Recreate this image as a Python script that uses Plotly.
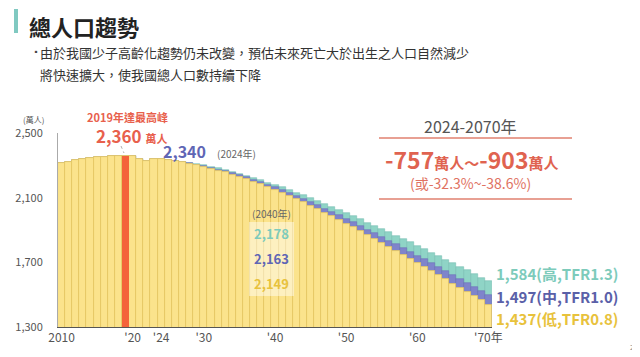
import plotly.graph_objects as go

# ---- data ----
hist_years = list(range(2010, 2024))
hist_values = [2316, 2322, 2332, 2337, 2343, 2349, 2354, 2357, 2359, 2360, 2356, 2338, 2326, 2342]

proj_years = list(range(2024, 2071))
proj_high = [2340, 2335, 2328, 2322, 2315, 2308, 2300, 2291, 2281, 2271, 2260, 2248, 2236, 2222, 2208, 2193,
             2178, 2163, 2147, 2131, 2114, 2097, 2079, 2061, 2042, 2024, 2005, 1985, 1966, 1946, 1926, 1905,
             1885, 1864, 1844, 1823, 1803, 1781, 1760, 1737, 1716, 1694, 1672, 1650, 1627, 1606, 1584]
proj_mid = [2340, 2334, 2327, 2320, 2312, 2304, 2295, 2285, 2274, 2263, 2251, 2238, 2225, 2210, 2195, 2179,
            2163, 2146, 2128, 2110, 2091, 2072, 2052, 2032, 2011, 1990, 1969, 1947, 1925, 1903, 1880, 1857,
            1834, 1811, 1788, 1765, 1742, 1718, 1694, 1669, 1645, 1620, 1596, 1571, 1546, 1522, 1497]
proj_low = [2340, 2334, 2326, 2319, 2310, 2301, 2291, 2280, 2268, 2256, 2243, 2229, 2215, 2199, 2183, 2166,
            2149, 2131, 2111, 2092, 2071, 2051, 2029, 2008, 1985, 1963, 1940, 1917, 1893, 1870, 1845, 1821,
            1796, 1772, 1747, 1723, 1698, 1673, 1647, 1620, 1595, 1568, 1543, 1516, 1490, 1464, 1437]

peak_year = 2019
peak_value = 2360

tick_vals = [2010, 2020, 2024, 2030, 2040, 2050, 2060, 2070]
tick_text = ["2010", "'20", "'24", "'30", "'40", "'50", "'60", "'70年"]
y_ticks = [1300, 1700, 2100, 2500]
y_tick_text = ["1,300", "1,700", "2,100", "2,500"]

years = hist_years + proj_years
high_all = hist_values + proj_high
mid_all = hist_values + proj_mid
low_all = hist_values + proj_low

# ---- colours ----
YEL = "#FBE38C"
YEL_LINE = "#E6C560"
TEAL = "#8FD4C6"
PURP = "#7F84CB"
RED = "#F4623A"
FONT = "Noto Sans CJK TC"

fig = go.Figure()
fig.add_bar(x=years, y=high_all, marker=dict(color=TEAL, line=dict(color="#78BFB1", width=0.6)), width=1.0)
fig.add_bar(x=years, y=mid_all, marker=dict(color=PURP, line=dict(color="#6C71B8", width=0.6)), width=1.0)
fig.add_bar(x=years, y=low_all, marker=dict(color=YEL, line=dict(color=YEL_LINE, width=0.8)), width=1.0)
fig.add_bar(x=[peak_year], y=[peak_value], marker=dict(color=RED, line=dict(width=0)), width=0.95)

# page offset of the figure inside the browser (default body margin)
OFF = 8
# plot-area geometry (window pixels)
L, R, T, B = 58, 492, 133, 327
W, H = 640 - OFF, 357 - OFF


def px(x):
    return (x - L) / (R - L)


def py(y):
    return (B - y) / (B - T)


def ann(x, y, text, size, color, bold=False, xanchor="center", yanchor="middle", borderpad=1):
    if bold:
        text = "<b>" + text + "</b>"
    fig.add_annotation(x=px(x), y=py(y), xref="paper", yref="paper", text=text, showarrow=False,
                       xanchor=xanchor, yanchor=yanchor, borderpad=borderpad,
                       font=dict(size=size, color=color, family=FONT))


# title and bullet text
ann(28, OFF + 0.5, "總人口趨勢", 22, "#222", bold=True, xanchor="left", yanchor="top", borderpad=0)
ann(30, 52, "▪", 8, "#444", xanchor="left")
ann(38, 53, "由於我國少子高齡化趨勢仍未改變，預估未來死亡大於出生之人口自然減少", 13, "#333", xanchor="left")
ann(38, 74, "將快速擴大，使我國總人口數持續下降", 13, "#333", xanchor="left")

# axis unit
ann(33, 119, "(萬人)", 8, "#555")

# peak annotation
ann(127, 117, "2019年達最高峰", 11, "#E8604C", bold=True)
ann(132, 135, "2,360 <span style='font-size:11px'>萬人</span>", 17, "#E8604C", bold=True)
ann(184, 151, "2,340", 16, "#5F66B5", bold=True)
ann(236, 153, "(2024年)", 10, "#666")

# 2040 box
ann(271, 213, "(2040年)", 10, "#666")
ann(271, 233, "2,178", 13, "#7DCBBB", bold=True)
ann(271, 258, "2,163", 13, "#5F66B5", bold=True)
ann(271, 283, "2,149", 13, "#E8C23C", bold=True)

# right box
ann(470, 126, "2024-2070年", 16, "#555")
ann(472, 159, "-757<span style='font-size:15px'>萬人～</span>-903<span style='font-size:15px'>萬人</span>",
    23, "#E06350", bold=True)
ann(470, 183, "(或-32.3%~-38.6%)", 14, "#E07262")

# end labels
ann(494, 273, "1,584(高,TFR1.3)", 15, "#7DCBBB", bold=True, xanchor="left")
ann(494, 296, "1,497(中,TFR1.0)", 15, "#5A60A8", bold=True, xanchor="left")
ann(494, 318, "1,437(低,TFR0.8)", 15, "#E8C23C", bold=True, xanchor="left")

# page number
ann(632, 347, "2", 7, "#888")

shapes = [
    dict(type="rect", xref="paper", yref="paper", x0=px(14), x1=px(18), y0=py(9), y1=py(33),
         fillcolor="#80C9C1", line=dict(width=0)),
    dict(type="rect", xref="paper", yref="paper", x0=px(249), x1=px(294), y0=py(222), y1=py(296),
         fillcolor="rgba(255,255,255,0.45)", line=dict(width=0), layer="above"),
    dict(type="line", xref="paper", yref="paper", x0=px(379), x1=px(572), y0=py(138), y1=py(138),
         line=dict(color="#E0806F", width=1.5)),
    dict(type="line", xref="paper", yref="paper", x0=px(379), x1=px(572), y0=py(199), y1=py(199),
         line=dict(color="#E0806F", width=1.5)),
    dict(type="line", xref="paper", yref="paper", x0=px(121), x1=px(124), y0=py(146), y1=py(153),
         line=dict(color="#999", width=0.8, dash="dot")),
]

fig.update_layout(
    width=W, height=H,
    margin=dict(l=L - OFF, r=640 - R, t=T - OFF, b=357 - B, pad=0),
    paper_bgcolor="white", plot_bgcolor="white",
    barmode="overlay", bargap=0, showlegend=False,
    font=dict(family=FONT, color="#555"),
    shapes=shapes,
    xaxis=dict(range=[2009.5, 2070.5], tickvals=tick_vals, ticktext=tick_text, showgrid=False,
               showline=True, linecolor="#555", linewidth=1, ticks="", tickfont=dict(size=12, color="#555"),
               zeroline=False, automargin=False),
    yaxis=dict(range=[1300, 2500], tickvals=y_ticks, ticktext=y_tick_text, showgrid=False,
               showline=True, linecolor="#AAA", linewidth=1, ticks="", ticklabelstandoff=12,
               tickfont=dict(size=11, color="#555"), zeroline=False, automargin=False),
)

fig.write_html("out.html")
